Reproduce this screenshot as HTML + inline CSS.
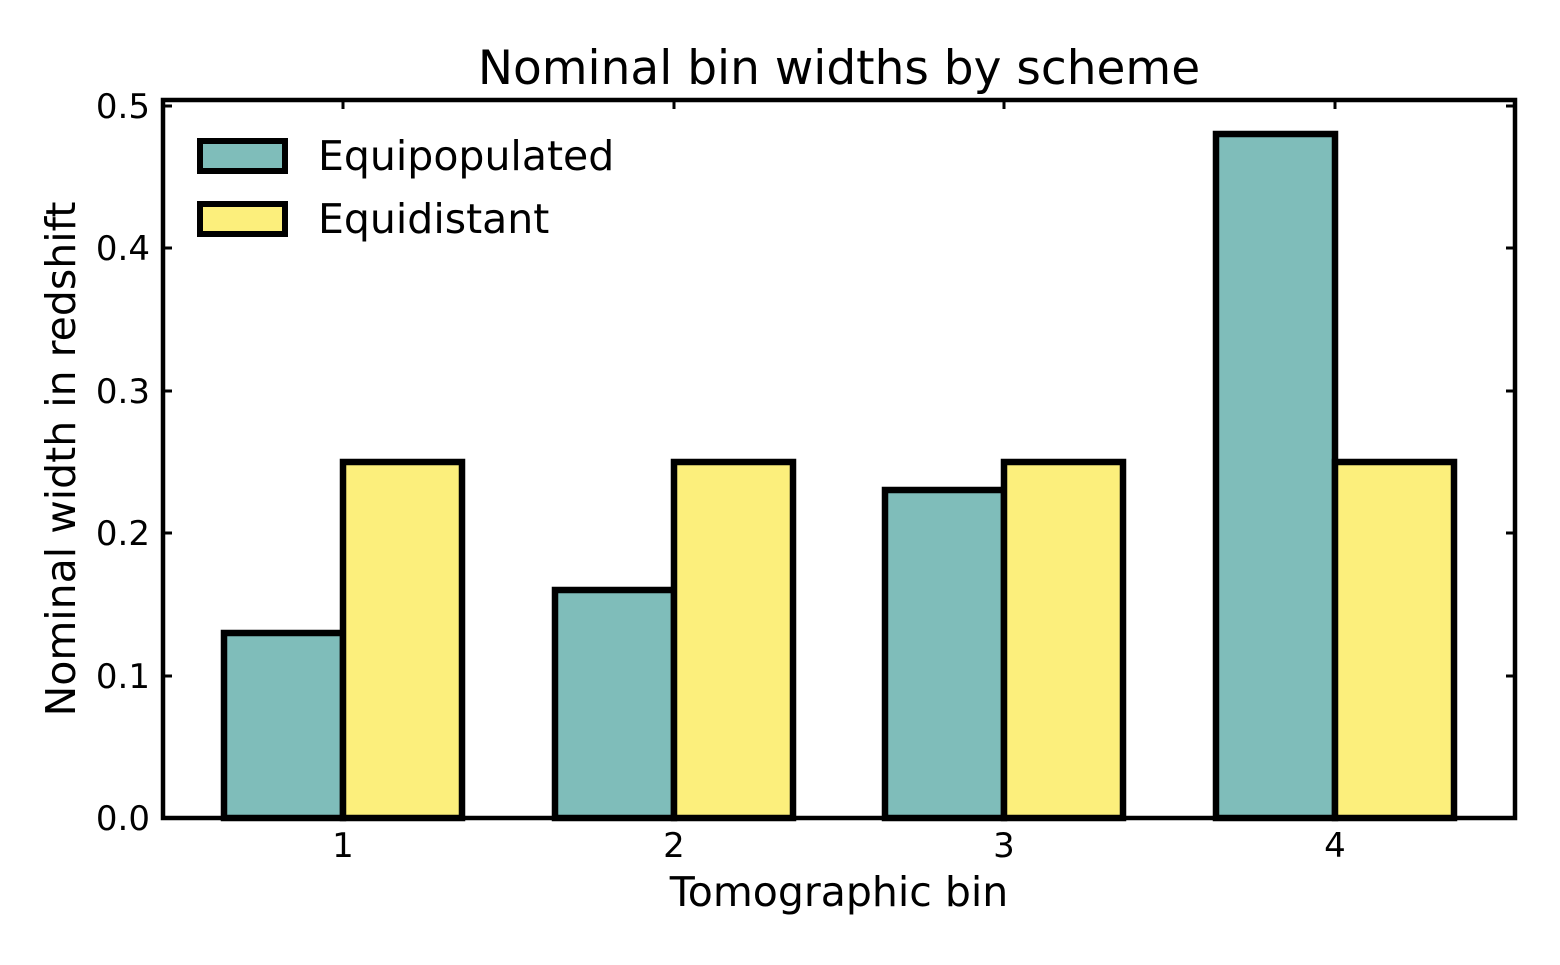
<!DOCTYPE html>
<html><head><style>body{margin:0;background:#fff}</style></head><body>
<svg width="1560" height="960" xmlns="http://www.w3.org/2000/svg" font-family="'DejaVu Sans','Liberation Sans',sans-serif">
<rect width="1560" height="960" fill="#fff"/>
<g stroke="#000" stroke-width="6.5" stroke-linejoin="miter">
<rect x="224" y="633" width="119" height="185" fill="#7fbdba"/>
<rect x="343" y="462" width="119" height="356" fill="#fcef7c"/>
<rect x="555" y="590" width="119" height="228" fill="#7fbdba"/>
<rect x="674" y="462" width="119" height="356" fill="#fcef7c"/>
<rect x="885" y="490" width="119" height="328" fill="#7fbdba"/>
<rect x="1004" y="462" width="119" height="356" fill="#fcef7c"/>
<rect x="1216" y="134" width="119" height="684" fill="#7fbdba"/>
<rect x="1335" y="462" width="119" height="356" fill="#fcef7c"/>
</g>
<rect x="163" y="100" width="1352" height="718" fill="none" stroke="#000" stroke-width="4.5"/>
<g stroke="#000" stroke-width="3">
<path d="M163 818h9M163 676h9M163 533h9M163 391h9M163 248h9M163 106h9"/>
<path d="M1515 818h-9M1515 676h-9M1515 533h-9M1515 391h-9M1515 248h-9M1515 106h-9"/>
<path d="M343 818v-9M674 818v-9M1004 818v-9M1335 818v-9"/>
<path d="M343 100v9M674 100v9M1004 100v9M1335 100v9"/>
</g>
<g font-size="34" text-anchor="end">
<text x="150" y="830">0.0</text><text x="150" y="688">0.1</text><text x="150" y="545">0.2</text>
<text x="150" y="403">0.3</text><text x="150" y="260">0.4</text><text x="150" y="118">0.5</text>
</g>
<g font-size="34" text-anchor="middle">
<text x="343" y="857">1</text><text x="674" y="857">2</text><text x="1004" y="857">3</text><text x="1335" y="857">4</text>
</g>
<text x="839" y="906" font-size="41" text-anchor="middle">Tomographic bin</text>
<text transform="translate(75 459) rotate(-90)" font-size="41" text-anchor="middle">Nominal width in redshift</text>
<text x="839" y="84" font-size="47" text-anchor="middle">Nominal bin widths by scheme</text>
<g stroke="#000" stroke-width="6">
<rect x="200" y="141" width="85" height="30" fill="#7fbdba"/>
<rect x="200" y="204" width="85" height="30" fill="#fcef7c"/>
</g>
<text x="318" y="170" font-size="41">Equipopulated</text>
<text x="318" y="233" font-size="41">Equidistant</text>
</svg>
</body></html>
